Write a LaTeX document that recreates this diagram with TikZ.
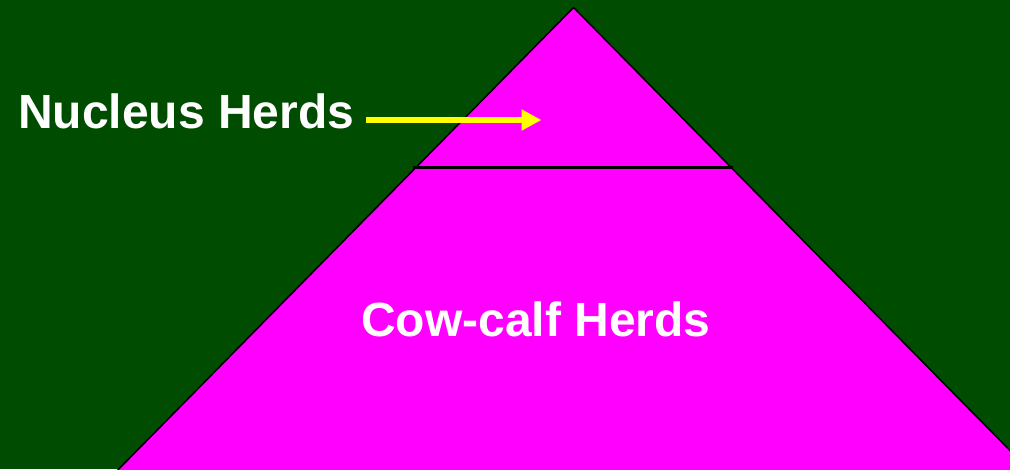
\documentclass[tikz,border=0pt]{standalone}
\usepackage{fontspec}
\setmainfont{Liberation Sans}
\usetikzlibrary{arrows.meta}
\definecolor{bggreen}{RGB}{0,76,0}
\definecolor{pyr}{RGB}{255,0,255}
\definecolor{arrowyellow}{RGB}{255,255,0}
\tikzset{
  lbl/.style={text=white, font=\fontsize{48}{56}\selectfont\bfseries, inner sep=0pt},
  pointer/.style={draw=arrowyellow, line width=6pt, -{Triangle[length=20pt,width=20pt]}}
}
\begin{document}
\begin{tikzpicture}[x=1pt,y=-1pt]
\fill[bggreen] (0,0) rectangle (1010,469);
\useasboundingbox (0,0) rectangle (1010,469);
\begin{scope}
\clip (0,0) rectangle (1010,469);
\filldraw[fill=pyr, draw=black, line width=1.5pt, line join=miter] (573.5,7.5) -- (108,480) -- (1039,480) -- cycle;
\end{scope}
\coordinate (divL) at (413,167);
\coordinate (divR) at (733,167);
\draw[black, line width=3pt] (divL) -- (divR);
\node[lbl, anchor=base west] (nucleus) at (18,128) {Nucleus Herds};
\node[lbl, anchor=base] (cowcalf) at (536,336.5) {Cow-calf Herds};
\coordinate (arrS) at (366,120);
\coordinate (arrE) at (541.5,120);
\draw[pointer] (arrS) -- (arrE);
\end{tikzpicture}
\end{document}
